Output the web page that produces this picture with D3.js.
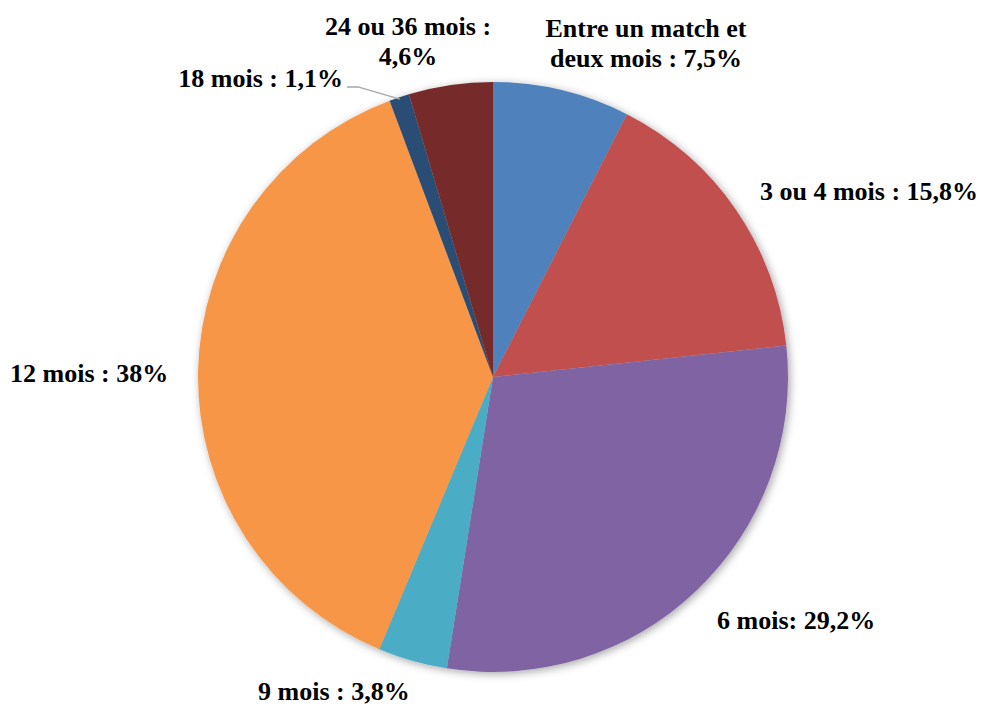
<!DOCTYPE html>
<html><head><meta charset="utf-8">
<script src="https://cdn.jsdelivr.net/npm/d3@7"></script>
<style>body{margin:0;background:#fff}svg{display:block}</style>
</head><body>
<script>
const categories = ["Entre un match et deux mois", "3 ou 4 mois", "6 mois", "9 mois", "12 mois", "18 mois", "24 ou 36 mois"];
const values = [7.5, 15.8, 29.2, 3.8, 38, 1.1, 4.6];
const labels = [["Entre un match et", "deux mois : 7,5%"], ["3 ou 4 mois : 15,8%"], ["6 mois: 29,2%"], ["9 mois : 3,8%"], ["12 mois : 38%"], ["18 mois : 1,1%"], ["24 ou 36 mois :", "4,6%"]];
const colors = ["#4F81BD", "#C0504D", "#8064A2", "#4BACC6", "#F79646", "#2C4D75", "#772C2A"];

const W = 984, H = 706, cx = 493, cy = 377, R = 295;
const svg = d3.select("body").append("svg").attr("width", W).attr("height", H);
const defs = svg.append("defs");
const f = defs.append("filter").attr("id", "sh").attr("x", "-20%").attr("y", "-20%").attr("width", "140%").attr("height", "140%");
f.append("feDropShadow").attr("dx", 2).attr("dy", 2).attr("stdDeviation", 4).attr("flood-color", "#000").attr("flood-opacity", 0.35);

const pie = d3.pie().sort(null).value(d => d)(values);
const arc = d3.arc().innerRadius(0).outerRadius(R);
const g = svg.append("g").attr("transform", `translate(${cx},${cy})`);
g.append("g").attr("filter", "url(#sh)").selectAll("path").data(pie).join("path")
  .attr("d", arc).attr("fill", (d, i) => colors[i]);

const pos = [
  {x: 646, y: 37, a: "middle"},
  {x: 760, y: 200, a: "start"},
  {x: 717, y: 629, a: "start"},
  {x: 258, y: 700, a: "start"},
  {x: 10, y: 382, a: "start"},
  {x: 343, y: 87, a: "end"},
  {x: 408, y: 35, a: "middle"}
];
const lt = svg.append("g");
labels.forEach((ls, i) => {
  const t = lt.append("text").attr("text-anchor", pos[i].a)
    .style("font-family", '"Liberation Serif"').style("font-weight", "bold")
    .style("font-size", "26px").style("fill", "#000");
  ls.forEach((s, j) => t.append("tspan").attr("x", pos[i].x).attr("y", pos[i].y + j * 30).text(s));
});

const s18 = pie[5];
const mid = (s18.startAngle + s18.endAngle) / 2;
const ex = cx + Math.sin(mid) * (R - 2), ey = cy - Math.cos(mid) * (R - 2);
svg.append("polyline").attr("points", `347,87 358,87 ${ex},${ey}`)
  .attr("fill", "none").attr("stroke", "#A6A6A6").attr("stroke-width", 1.3);
</script>
</body></html>
